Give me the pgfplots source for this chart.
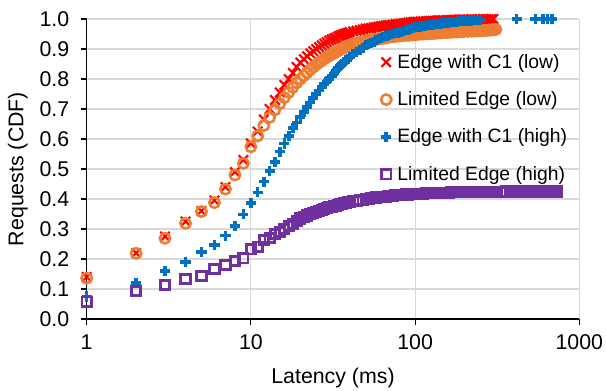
\documentclass[border=0pt]{standalone}
\usepackage{fontspec}
\setmainfont{Liberation Sans}
\usepackage{pgfplots}
\pgfplotsset{compat=1.18}
\definecolor{cRed}{RGB}{255,0,0}
\definecolor{cOrange}{RGB}{237,125,49}
\definecolor{cBlue}{RGB}{0,112,192}
\definecolor{cPurple}{RGB}{112,48,160}
\definecolor{gridmaj}{RGB}{217,217,217}
\definecolor{gridmin}{RGB}{235,235,235}
\begin{document}
\begin{tikzpicture}
\begin{axis}[
  scale only axis,
  width=369.5pt, height=225pt,
  xmode=log, log basis x=10,
  xmin=1, xmax=1000, ymin=0, ymax=1,
  axis x line*=bottom, axis y line*=left,
  axis line style={black, line width=0.8pt},
  xtick={1,10,100,1000}, xticklabels={1,10,100,1000},
  ytick={0,0.1,0.2,0.3,0.4,0.5,0.6,0.7,0.8,0.9,1.0},
  yticklabel style={/pgf/number format/fixed, /pgf/number format/fixed zerofill, /pgf/number format/precision=1, xshift=-5pt},
  /pgf/number format/assume math mode=true,
  tick align=outside,
  major tick length=4.5pt, minor tick length=4.5pt,
  tick style={black, line width=0.8pt},
  ymajorgrids, xmajorgrids, xminorgrids,
  major grid style={gridmaj, line width=0.8pt},
  minor grid style={gridmin, line width=0.8pt},
  ticklabel style={font=\fontsize{16}{19}\selectfont},
  xticklabel style={yshift=-4pt},
  xlabel={Latency (ms)}, ylabel={Requests (CDF)},
  every axis x label/.style={at={(axis description cs:0.5,-0.197)}, anchor=center, font=\fontsize{16}{19}\selectfont},
  every axis y label/.style={at={(axis description cs:-0.1395,0.5)}, anchor=center, rotate=90, font=\fontsize{16}{19}\selectfont},
  legend cell align=left,
  legend image code/.code={\draw[#1] plot coordinates {(0pt,0pt)};},
  legend style={draw=none, fill=none, inner sep=0pt, outer sep=0pt,
    font=\fontsize{14.5}{17}\selectfont,
    at={(rel axis cs:0.5975,0.887)}, anchor=north west,
    row sep=14pt,
    /tikz/every odd column/.append style={column sep=3.5pt},
    nodes={inner sep=1pt}},
]
\addplot[only marks, mark=x, cRed, mark size=5pt, line width=1.6pt] coordinates {
(1,.14)(2,.22)(3,.275)(4,.325)(5,.36)(6,.395)(7,.44)(8,.49)(9,.53)(10,.585)
(11,.625)(12,.665)(13,.70)(14,.73)(15,.755)(16,.78)(17,.80)(18,.82)(19,.84)(20,.855)
(21,.866)(22,.876)(23,.885)(24,.893)(25,.90)(26,.906)(27,.912)(28,.918)(29,.923)(30,.928)
(31,.932)(32,.935)(33,.938)(34,.942)(35,.945)(36,.947)(37,.950)(38,.952)(39,.954)(40,.956)
(42,.959)(44,.961)(46,.963)(48,.965)(50,.968)(52,.969)(54,.970)(56,.972)(58,.973)(60,.975)
(62,.976)(64,.977)(66,.978)(68,.979)(70,.980)
(73,.981)(76,.983)(79,.984)(82,.985)(85,.986)(88,.987)(91,.988)(94,.989)(97,.990)(100,.991)
(104,.991)(108,.992)(112,.992)(116,.993)(120,.993)(124,.994)(128,.994)(132,.994)(136,.995)(140,.995)(144,.995)(148,.996)
(155,.996)(160,.996)(165,.997)(170,.997)(175,.997)(180,.997)(185,.998)(190,.998)(195,.998)(200,.998)
(210,.998)(220,.999)(230,.999)(240,.999)(250,.999)(260,1.0)(270,1.0)(280,1.0)(290,1.0)(300,1.0)};
\addlegendentry{Edge with C1 (low)}
\addplot[only marks, mark=o, cOrange, mark size=3.9pt, line width=1.9pt] coordinates {
(1,.136)(2,.219)(3,.269)(4,.319)(5,.358)(6,.388)(7,.433)(8,.48)(9,.519)(10,.574)
(11,.61)(12,.645)(13,.672)(14,.697)(15,.718)(16,.738)(17,.755)(18,.772)(19,.787)(20,.80)
(21,.811)(22,.821)(23,.831)(24,.840)(25,.848)(26,.855)(27,.861)(28,.867)(29,.873)(30,.878)
(31,.882)(32,.886)(33,.890)(34,.894)(35,.898)(36,.901)(37,.904)(38,.907)(39,.910)(40,.912)
(42,.915)(44,.918)(46,.921)(48,.924)(50,.926)(52,.928)(54,.929)(56,.931)(58,.932)(60,.934)
(62,.935)(64,.936)(66,.937)(68,.939)(70,.940)
(73,.941)(76,.942)(79,.943)(82,.944)(85,.945)(88,.946)(91,.946)(94,.947)(97,.947)(100,.948)
(104,.949)(108,.950)(112,.950)(116,.951)(120,.951)(124,.952)(128,.952)(132,.953)(136,.953)(140,.954)(144,.954)(148,.955)
(155,.955)(160,.956)(165,.956)(170,.957)(175,.957)(180,.957)(185,.958)(190,.958)(195,.958)(200,.959)
(210,.959)(220,.960)(230,.960)(240,.961)(250,.961)(260,.962)(270,.962)(280,.963)(290,.963)(300,.964)(310,.965)};
\addlegendentry{Limited Edge (low)}
\addplot[only marks, mark=+, cBlue, mark size=3.8pt, line width=2.7pt] coordinates {
(1,.075)(2,.121)(3,.161)(4,.191)(5,.224)(6,.247)(7,.278)(8,.31)(9,.349)(10,.386)
(11,.422)(12,.458)(13,.494)(14,.524)(15,.558)(16,.585)(17,.61)(18,.637)(19,.655)(20,.674)
(21,.691)(22,.707)(23,.722)(24,.737)(25,.750)(26,.762)(27,.773)(28,.783)(29,.792)(30,.80)
(31,.810)(32,.819)(33,.828)(34,.836)(35,.843)(36,.850)(37,.856)(38,.862)(39,.868)(40,.873)
(42,.882)(44,.889)(46,.896)(48,.904)(50,.912)(52,.916)(54,.920)(56,.924)(58,.929)(60,.933)
(62,.936)(64,.939)(66,.942)(68,.945)(70,.947)
(73,.950)(76,.952)(79,.955)(82,.958)(85,.960)(88,.963)(91,.965)(94,.967)(97,.970)(100,.972)
(104,.973)(108,.975)(112,.976)(116,.978)(120,.979)(124,.980)(128,.981)(132,.982)(136,.983)(140,.984)(144,.985)(148,.986)
(155,.987)(160,.988)(165,.989)(170,.990)(175,.990)(180,.991)(185,.992)(190,.992)(195,.993)(200,.993)
(210,.994)(220,.995)(230,.996)(240,.996)(250,.997)(415,1.0)(540,1.0)(600,1.0)(640,1.0)(680,1.0)};
\addlegendentry{Edge with C1 (high)}
\addplot[only marks, mark=square, cPurple, mark size=3.5pt, line width=2.1pt] coordinates {
(1,.058)(2,.094)(3,.113)(4,.133)(5,.144)(6,.167)(7,.18)(8,.194)(9,.202)(10,.232)
(11,.241)(12,.263)(13,.27)(14,.283)(15,.29)(16,.30)(17,.31)(18,.318)(19,.327)(20,.335)
(21,.340)(22,.345)(23,.350)(24,.354)(25,.358)(26,.361)(27,.364)(28,.367)(29,.370)(30,.372)
(31,.374)(32,.376)(33,.378)(34,.380)(35,.382)(36,.384)(37,.386)(38,.387)(39,.389)(40,.390)
(42,.392)(44,.394)(46,.396)(48,.398)(50,.400)(52,.401)(54,.402)(56,.404)(58,.405)(60,.406)
(62,.406)(64,.407)(66,.408)(68,.409)(70,.410)
(73,.411)(76,.412)(79,.413)(82,.413)(85,.414)(88,.415)(91,.415)(94,.416)(97,.416)(100,.417)
(104,.417)(108,.418)(112,.418)(116,.419)(120,.419)(124,.419)(128,.420)(132,.420)(136,.420)(140,.420)(144,.421)(148,.421)
(155,.421)(160,.421)(165,.422)(170,.422)(175,.422)(180,.422)(185,.422)(190,.422)(195,.423)(200,.423)
(210,.423)(220,.423)(230,.423)(240,.423)(250,.424)(260,.424)(270,.424)(280,.424)(290,.424)(300,.424)
(315,.424)(330,.424)(345,.424)(360,.425)(380,.425)(400,.425)(420,.425)(440,.425)(460,.425)(480,.425)
(500,.425)(525,.425)(550,.425)(575,.425)(600,.425)(625,.425)(650,.425)(675,.425)(700,.425)(730,.425)};
\addlegendentry{Limited Edge (high)}
\coordinate (bl) at (rel axis cs:0,0);
\coordinate (tr) at (rel axis cs:1,1);
\end{axis}
\pgfresetboundingbox
\path[use as bounding box] ([shift={(-65pt,-53.25pt)}]bl) rectangle ([shift={(20pt,14.25pt)}]tr);
\end{tikzpicture}
\end{document}
